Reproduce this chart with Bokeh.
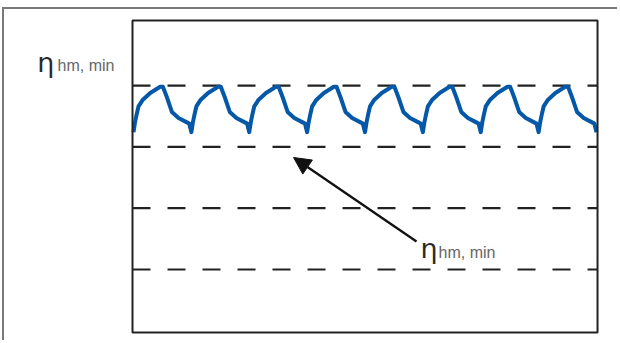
from bokeh.plotting import figure
from bokeh.models import Arrow, NormalHead, Label, Range1d
from bokeh.embed import file_html
from bokeh.resources import INLINE

# ---- data ----
# time axis in cycles; efficiency level in arbitrary units (dashed levels at 1..4)
cycle_t = [
    0.000, 0.026, 0.059, 0.086, 0.162, 0.289, 0.461, 0.508, 0.577, 0.663, 0.778, 0.923, 0.962,
    1.000, 1.026, 1.059, 1.086, 1.162, 1.289, 1.461, 1.508, 1.577, 1.663, 1.778, 1.923, 1.962,
    2.000, 2.026, 2.059, 2.086, 2.162, 2.289, 2.461, 2.508, 2.577, 2.663, 2.778, 2.923, 2.962,
    3.000, 3.026, 3.059, 3.086, 3.162, 3.289, 3.461, 3.508, 3.577, 3.663, 3.778, 3.923, 3.962,
    4.000, 4.026, 4.059, 4.086, 4.162, 4.289, 4.461, 4.508, 4.577, 4.663, 4.778, 4.923, 4.962,
    5.000, 5.026, 5.059, 5.086, 5.162, 5.289, 5.461, 5.508, 5.577, 5.663, 5.778, 5.923, 5.962,
    6.000, 6.026, 6.059, 6.086, 6.162, 6.289, 6.461, 6.508, 6.577, 6.663, 6.778, 6.923, 6.962,
    7.000, 7.026, 7.059, 7.086, 7.162, 7.289, 7.461, 7.508, 7.577, 7.663, 7.778, 7.923, 7.962,
    8.000,
]
efficiency = [
    3.24, 3.40, 3.55, 3.66, 3.77, 3.88, 3.98, 3.98, 3.81, 3.57, 3.47, 3.40, 3.38,
    3.24, 3.40, 3.55, 3.66, 3.77, 3.88, 3.98, 3.98, 3.81, 3.57, 3.47, 3.40, 3.38,
    3.24, 3.40, 3.55, 3.66, 3.77, 3.88, 3.98, 3.98, 3.81, 3.57, 3.47, 3.40, 3.38,
    3.24, 3.40, 3.55, 3.66, 3.77, 3.88, 3.98, 3.98, 3.81, 3.57, 3.47, 3.40, 3.38,
    3.24, 3.40, 3.55, 3.66, 3.77, 3.88, 3.98, 3.98, 3.81, 3.57, 3.47, 3.40, 3.38,
    3.24, 3.40, 3.55, 3.66, 3.77, 3.88, 3.98, 3.98, 3.81, 3.57, 3.47, 3.40, 3.38,
    3.24, 3.40, 3.55, 3.66, 3.77, 3.88, 3.98, 3.98, 3.81, 3.57, 3.47, 3.40, 3.38,
    3.24, 3.40, 3.55, 3.66, 3.77, 3.88, 3.98, 3.98, 3.81, 3.57, 3.47, 3.40, 3.38,
    3.24,
]
dash_levels = [1, 2, 3, 4]
label_main = "η"
label_sub = "hm, min"

# plot-box limits (data units)
BX0, BX1, BY0, BY1 = -0.0173, 8.0173, -0.028, 5.062

# ---- figure (frame covers the whole canvas; the inner box is drawn) ----
p = figure(
    width=615, height=333,
    x_range=Range1d(-2.229, 8.397), y_range=Range1d(-0.1911, 5.2415),
    output_backend="svg", toolbar_location=None,
    min_border_left=0, min_border_right=0, min_border_top=0, min_border_bottom=0,
    styles={"margin-left": "2px", "margin-top": "7px",
            "border-top": "2px solid #7a7a7a", "border-left": "2px solid #7a7a7a"},
)
p.xaxis.visible = False
p.yaxis.visible = False
p.xgrid.visible = False
p.ygrid.visible = False
p.outline_line_color = None
p.background_fill_color = "white"
p.border_fill_color = "white"

p.segment(x0=[BX0] * len(dash_levels), x1=[BX1] * len(dash_levels),
          y0=dash_levels, y1=dash_levels,
          line_color="#222222", line_width=2.2, line_dash="18 17")

p.line(cycle_t, efficiency, line_color="#0557a8", line_width=4, line_join="round")

p.quad(left=[BX0], right=[BX1], bottom=[BY0], top=[BY1],
       fill_color=None, line_color="#222222", line_width=2)

# arrow pointing at the lower bound
p.add_layout(Arrow(end=NormalHead(size=17, fill_color="#111111", line_color="#111111"),
                   x_start=4.890, y_start=1.457, x_end=2.765, y_end=2.827,
                   line_color="#111111", line_width=2.3))

def put_label(x_main, x_sub, y_main, y_sub):
    p.add_layout(Label(x=x_main, y=y_main, text=label_main,
                       text_font="DejaVu Sans", text_font_size="27px", text_color="#2a2a2a",
                       text_baseline="alphabetic", text_align="left"))
    p.add_layout(Label(x=x_sub, y=y_sub, text=label_sub,
                       text_font="Liberation Sans", text_font_size="16px", text_color="#666666",
                       text_baseline="alphabetic", text_align="left"))

put_label(-1.665, -1.313, 4.38, 4.33)
put_label(4.960, 5.270, 1.34, 1.27)

open("out.html", "w").write(file_html(p, INLINE))
